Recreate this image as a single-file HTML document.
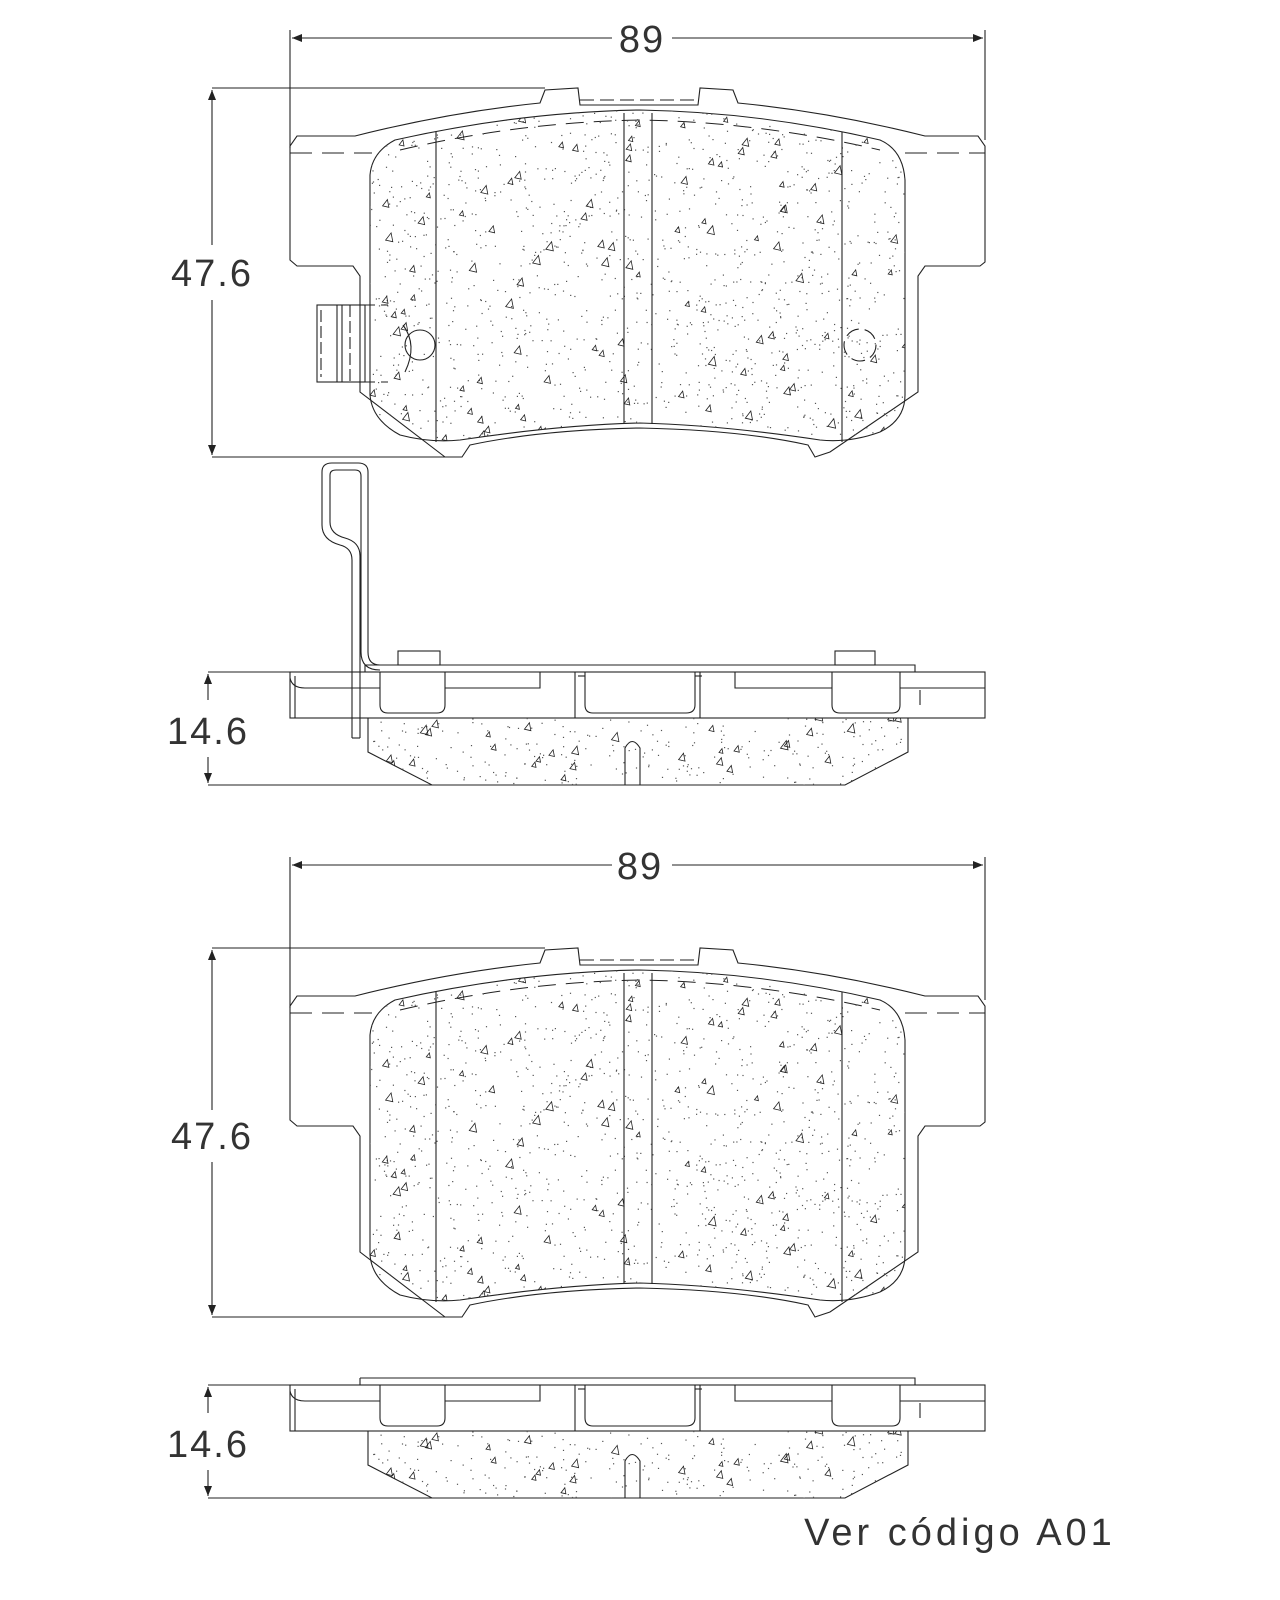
<!DOCTYPE html>
<html><head><meta charset="utf-8"><style>
html,body{margin:0;padding:0;background:#fff;}
svg{display:block;}
text{font-family:"Liberation Sans",sans-serif;fill:#333;}
</style></head><body>
<svg id="s" width="1280" height="1600" viewBox="0 0 1280 1600" xmlns="http://www.w3.org/2000/svg">
<defs>
<marker id="a" viewBox="0 0 10 10" refX="10" refY="5" markerWidth="14" markerHeight="10" orient="auto-start-reverse" markerUnits="userSpaceOnUse"><path d="M0,1 L10,5 L0,9 Z" fill="#222"/></marker>
<clipPath id="fc"><path id="fp" d="M395,140 Q520,112 640,110 Q760,112 880,140 Q903,150 905,180 L905,395 Q905,420 880,432 Q850,443 820,440 Q720,425 640,423 Q560,425 460,440 Q430,443 400,435 Q372,420 370,395 L370,175 Q372,152 395,140 Z"/></clipPath>
<clipPath id="sc"><path d="M368,718 L908,718 L908,752 L845,785 L432,785 L368,752 Z"/></clipPath>
</defs>
<g fill="none" stroke="#222" stroke-width="1.1">
<line x1="290" y1="30" x2="290" y2="148"/><line x1="985" y1="30" x2="985" y2="140"/>
<line x1="292" y1="38" x2="612" y2="38" marker-start="url(#a)"/><line x1="672" y1="38" x2="983" y2="38" marker-end="url(#a)"/>
<line x1="212" y1="88" x2="545" y2="88"/><line x1="212" y1="457" x2="445" y2="457"/>
<line x1="212" y1="90" x2="212" y2="245" marker-start="url(#a)"/><line x1="212" y1="300" x2="212" y2="455" marker-end="url(#a)"/>
<line x1="290" y1="857" x2="290" y2="1008"/><line x1="985" y1="857" x2="985" y2="1000"/>
<line x1="292" y1="865" x2="612" y2="865" marker-start="url(#a)"/><line x1="672" y1="865" x2="983" y2="865" marker-end="url(#a)"/>
<line x1="212" y1="948" x2="545" y2="948"/><line x1="212" y1="1317" x2="445" y2="1317"/>
<line x1="212" y1="950" x2="212" y2="1110" marker-start="url(#a)"/><line x1="212" y1="1162" x2="212" y2="1315" marker-end="url(#a)"/>
<line x1="208" y1="672" x2="290" y2="672"/><line x1="208" y1="785" x2="432" y2="785"/>
<line x1="208" y1="700" x2="208" y2="674" marker-end="url(#a)"/><line x1="208" y1="757" x2="208" y2="783" marker-end="url(#a)"/>
<line x1="208" y1="1385" x2="290" y2="1385"/><line x1="208" y1="1498" x2="432" y2="1498"/>
<line x1="208" y1="1413" x2="208" y2="1387" marker-end="url(#a)"/><line x1="208" y1="1470" x2="208" y2="1496" marker-end="url(#a)"/>
</g>
<g font-size="38" text-anchor="middle" letter-spacing="2">
<text x="642" y="52">89</text><text x="640" y="879">89</text>
<text x="212" y="286">47.6</text><text x="212" y="1149">47.6</text>
<text x="208" y="744">14.6</text><text x="208" y="1457">14.6</text>
</g>
<text x="960" y="1545" font-size="38" text-anchor="middle" letter-spacing="4">Ver código A01</text>

<g id="pad" fill="none" stroke="#222" stroke-width="1.1">
<path d="M297,136 L355,136 Q450,112 540,103 L545,90 L578,88 L580,105 L698,105 L700,88 L733,90 L738,103 Q830,112 925,136 L978,136 L985,146 L985,262 L980,266 L925,266 L918,276 L918,392 L830,452 L815,457 L808,445 Q740,430 640,428 Q540,430 470,445 L462,457 L445,457 L360,392 L360,276 L353,266 L297,266 L290,260 L290,146 Z"/>
<path d="M580,100 L698,100" stroke-dasharray="14,6"/>
<line x1="290" y1="153" x2="372" y2="153" stroke-dasharray="22,10"/>
<line x1="905" y1="153" x2="985" y2="153" stroke-dasharray="22,10"/>
<path d="M400,150 Q520,122 640,120 Q760,122 880,150" stroke-dasharray="18,10" stroke-width="1"/>
<use href="#fp"/>
<g id="specks" clip-path="url(#fc)" stroke-width="0.8"></g>
<line x1="436" y1="132" x2="436" y2="442"/><line x1="624" y1="113" x2="624" y2="424"/>
<line x1="652" y1="113" x2="652" y2="424"/><line x1="842" y1="132" x2="842" y2="442"/>
</g>
<use href="#pad" transform="translate(0,860)"/>

<g fill="none" stroke="#222" stroke-width="1.1">
<rect x="317" y="305" width="48" height="77"/>
<line x1="321" y1="310" x2="321" y2="377" stroke-dasharray="12,4"/>
<line x1="337" y1="305" x2="337" y2="382"/><line x1="342" y1="305" x2="342" y2="382"/>
<line x1="350" y1="305" x2="350" y2="382" stroke-dasharray="12,4"/>
<line x1="365" y1="305" x2="388" y2="305" stroke-dasharray="10,6"/>
<line x1="365" y1="382" x2="388" y2="382" stroke-dasharray="10,6"/>
<circle cx="420" cy="345" r="15"/>
<path d="M403,325 Q418,345 405,372" />
<circle cx="860" cy="345" r="16" stroke-dasharray="14,6"/>
</g>

<g id="side" fill="none" stroke="#222" stroke-width="1.1">
<rect x="290" y="672" width="695" height="46"/>
<line x1="295" y1="676" x2="295" y2="718"/>
<path d="M290,678 Q292,688 305,688 L380,688 M445,688 L540,688 L540,672 M575,672 L575,718 M700,718 L700,672 M735,672 L735,688 L832,688 M900,688 L985,688"/>
<path d="M380,672 L380,705 Q380,713 388,713 L437,713 Q445,713 445,705 L445,672"/>
<path d="M585,672 L585,705 Q585,713 593,713 L686,713 Q695,713 695,705 L695,672"/>
<line x1="578" y1="676" x2="585" y2="676"/><line x1="695" y1="676" x2="702" y2="676"/>
<path d="M832,672 L832,705 Q832,713 840,713 L892,713 Q900,713 900,705 L900,672"/>
<line x1="920" y1="705" x2="920" y2="690"/>
<path d="M368,718 L368,752 L432,785 L845,785 L908,752 L908,718"/>
<path d="M625,785 L625,748 Q632,735 640,748 L640,785"/>
<g id="sspecks" clip-path="url(#sc)" stroke-width="0.8"></g>
</g>
<use href="#side" transform="translate(0,713)"/>
<g fill="none" stroke="#222" stroke-width="1.1">
<path d="M365,665 L915,665 L915,672 M365,665 L365,672"/>
<rect x="398" y="651" width="42" height="14"/><rect x="835" y="651" width="40" height="14"/>
<path d="M352,738 L352,560 Q352,548 340,545 Q322,540 322,525 L322,472 Q322,463 332,463 L358,463 Q368,463 368,472 L368,652 Q368,665 380,665"/>
<path d="M360,738 L360,556 Q360,542 345,538 Q330,534 330,522 L330,475 Q330,470 336,470 L355,470 Q361,470 361,476 L361,652 Q361,670 380,670"/>
<line x1="352" y1="738" x2="360" y2="738"/>
</g>
<g fill="none" stroke="#222" stroke-width="1.1">
<path d="M360,1378 L915,1378 L915,1385 M360,1378 L360,1385"/>
</g>
</svg>
<script>
(function(){
var seed=7;function r(){seed=(seed*16807)%2147483647;return seed/2147483647;}
var NS="http://www.w3.org/2000/svg";
function fill(id,x0,y0,w,h,nd,nt){
var g=document.getElementById(id);if(!g)return;
for(var i=0;i<nd;i++){var e=document.createElementNS(NS,"rect");e.setAttribute("x",(x0+r()*w).toFixed(1));e.setAttribute("y",(y0+r()*h).toFixed(1));e.setAttribute("width","1.2");e.setAttribute("height","1.2");e.setAttribute("fill","#555");e.setAttribute("stroke","none");g.appendChild(e);}
for(var i=0;i<nt;i++){var x=x0+r()*w,y=y0+r()*h,a=3+r()*3;var p=document.createElementNS(NS,"path");p.setAttribute("d","M"+x.toFixed(1)+","+y.toFixed(1)+" l"+a.toFixed(1)+","+(-a*1.3).toFixed(1)+" l"+(a*0.3).toFixed(1)+","+(a*1.6).toFixed(1)+" z");g.appendChild(p);}
}
fill('specks',368,108,540,340,1400,110);
fill('sspecks',368,718,540,68,260,30);
})();
</script>
</body></html>
